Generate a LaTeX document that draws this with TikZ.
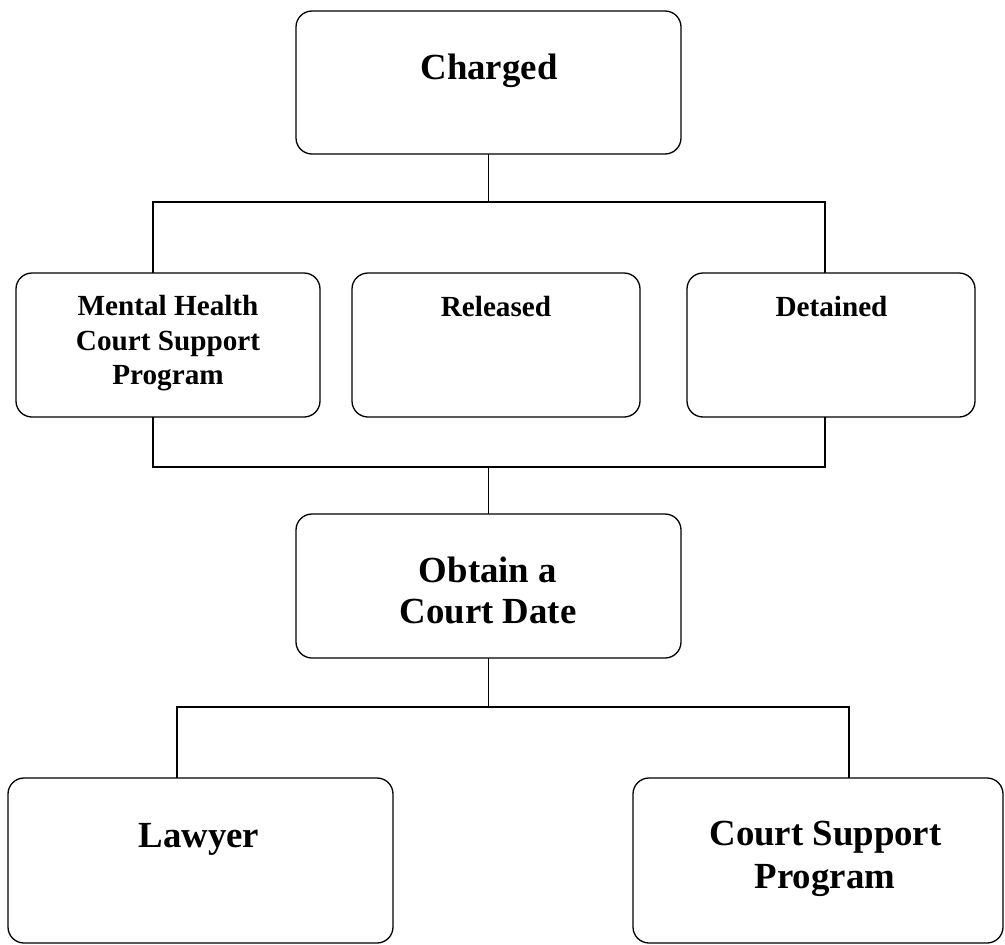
\documentclass[tikz,border=0pt]{standalone}
\usepackage{fontspec}
\setmainfont{Liberation Serif}
\begin{document}
\begin{tikzpicture}[x=1pt,y=-1pt,
  box/.style={draw=black,line width=1.3pt,rounded corners=16pt,inner sep=0pt,outer sep=0pt},
  big/.style={font=\fontsize{36.8}{41}\selectfont\bfseries,inner sep=0pt,anchor=base},
  small/.style={font=\fontsize{29.2}{34.5}\selectfont\bfseries,inner sep=0pt,anchor=base},
  conn/.style={draw=black,line width=1.3pt}]
\useasboundingbox (0,0) rectangle (1005,945);
\fill[white] (0,0) rectangle (1005,945);
% boxes
\node[box,minimum width=385pt,minimum height=143pt] (charged) at (488.5,82.5) {};
\node[box,minimum width=304pt,minimum height=144pt] (mh) at (168,345) {};
\node[box,minimum width=288pt,minimum height=144pt] (rel) at (496,345) {};
\node[box,minimum width=288pt,minimum height=144pt] (det) at (831,345) {};
\node[box,minimum width=385pt,minimum height=144pt] (obt) at (488.5,586) {};
\node[box,minimum width=385pt,minimum height=165pt] (law) at (200.5,860.5) {};
\node[box,minimum width=370pt,minimum height=165pt] (csp) at (818,860.5) {};
% texts
\node[big] (tcharged) at (489,79) {Charged};
\node[small] (tmh1) at (168,315) {Mental Health};
\node[small] (tmh2) at (168,350) {Court Support};
\node[small] (tmh3) at (168,384) {Program};
\node[small] (trel) at (496,316) {Released};
\node[small] (tdet) at (831.5,316) {Detained};
\node[big] (tobt1) at (488,582) {Obtain a};
\node[big] (tobt2) at (488,623) {Court Date};
\node[big] (tlaw) at (199,847) {Lawyer};
\node[big] (tcsp1) at (825.5,845) {Court Support};
\node[big] (tcsp2) at (825,888) {Program};
% junction coordinates
\coordinate (a0) at (488.5,202);
\coordinate (a1) at (153,202);
\coordinate (a2) at (825,202);
\coordinate (b0) at (488.5,467);
\coordinate (b1) at (153,467);
\coordinate (b2) at (825,467);
\coordinate (c0) at (488.5,707);
\coordinate (c1) at (177,707);
\coordinate (c2) at (849,707);
% connectors
\draw[conn] (charged.south) -- (a0);
\draw[conn] (a1 |- mh.north) -- (a1) -- (a2) -- (a2 |- det.north);
\draw[conn] (b1 |- mh.south) -- (b1) -- (b2) -- (b2 |- det.south);
\draw[conn] (b0) -- (obt.north);
\draw[conn] (obt.south) -- (c0);
\draw[conn] (c1 |- law.north) -- (c1) -- (c2) -- (c2 |- csp.north);
\end{tikzpicture}
\end{document}
